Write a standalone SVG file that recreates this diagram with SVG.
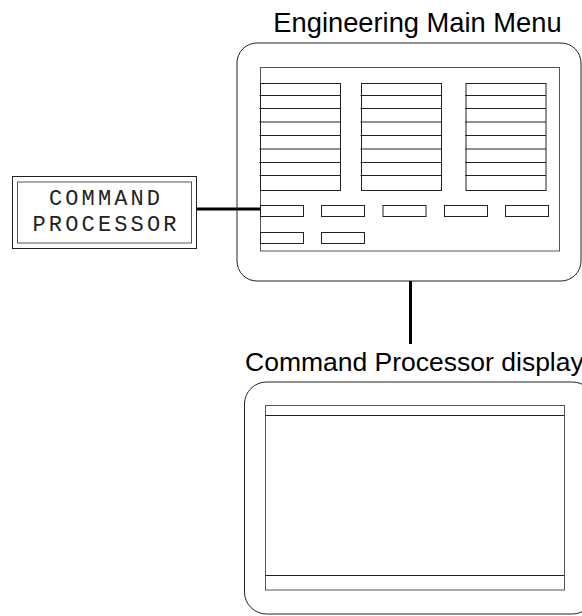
<svg xmlns="http://www.w3.org/2000/svg" width="582" height="616" viewBox="0 0 582 616">
<style>
.ln{fill:none;stroke:#222;stroke-width:1}
.lt{fill:none;stroke:#555;stroke-width:1}
.btn{fill:#fff;stroke:#222;stroke-width:1}
.conn{stroke:#000;stroke-width:3;fill:none}
.title{font-family:"Liberation Sans",Arial,sans-serif;fill:#000}
.mono{font-family:"Liberation Mono","Courier New",monospace;font-size:22px;fill:#222}
</style>
<rect width="582" height="616" fill="#fff"/>
<g id="connectors">
<line class="conn" x1="197" y1="209" x2="276" y2="209"/>
<line class="conn" x1="410.5" y1="281" x2="410.5" y2="344"/>
</g>
<g id="engineering-main-menu">
<text class="title" x="417.5" y="31.5" font-size="27.3" text-anchor="middle">Engineering Main Menu</text>
<rect class="ln" x="237" y="43" width="344" height="238" rx="20" ry="20"/>
<rect class="lt" x="260.5" y="67.5" width="299" height="183.5"/>
<g id="menu-col1">
<rect class="ln" x="260.5" y="83.5" width="80" height="107"/>
<path class="ln" d="M259.5 95.5H340.5M259.5 108.5H340.5M259.5 122H340.5M259.5 135.5H340.5M259.5 149H340.5M259.5 162.5H340.5M259.5 175.5H340.5"/>
</g>
<g id="menu-col2">
<rect class="ln" x="361.5" y="83.5" width="80" height="107"/>
<path class="ln" d="M360.5 95.5H441.5M360.5 108.5H441.5M360.5 122H441.5M360.5 135.5H441.5M360.5 149H441.5M360.5 162.5H441.5M360.5 175.5H441.5"/>
</g>
<g id="menu-col3">
<rect class="ln" x="466" y="83.5" width="80" height="107"/>
<path class="ln" d="M465 95.5H546M465 108.5H546M465 122H546M465 135.5H546M465 149H546M465 162.5H546M465 175.5H546"/>
</g>
<g id="menu-buttons">
<rect class="btn" x="260.5" y="205.5" width="43" height="11"/>
<rect class="btn" x="321.5" y="205.5" width="43" height="11"/>
<rect class="btn" x="383" y="205.5" width="43" height="11"/>
<rect class="btn" x="444.5" y="205.5" width="43" height="11"/>
<rect class="btn" x="505.5" y="205.5" width="43" height="11"/>
<rect class="btn" x="260.5" y="232.5" width="43" height="11"/>
<rect class="btn" x="321.5" y="232.5" width="43" height="11"/>
</g>
</g>
<g id="command-processor">
<rect class="ln" x="12.5" y="176.5" width="184" height="72"/>
<rect class="lt" x="17.5" y="182" width="174" height="61"/>
<text class="mono" x="49" y="204.5" textLength="111" lengthAdjust="spacing">COMMAND</text>
<text class="mono" x="32.5" y="231" textLength="144" lengthAdjust="spacing">PROCESSOR</text>
</g>
<g id="command-processor-display">
<text class="title" x="245" y="370.5" font-size="26.5">Command Processor display</text>
<rect class="ln" x="244.5" y="382" width="350" height="232" rx="22" ry="22"/>
<rect class="lt" x="265.5" y="405.5" width="299" height="184.5"/>
<path class="ln" d="M265.5 415.5H564.5M265.5 575.5H564.5"/>
</g>
</svg>
